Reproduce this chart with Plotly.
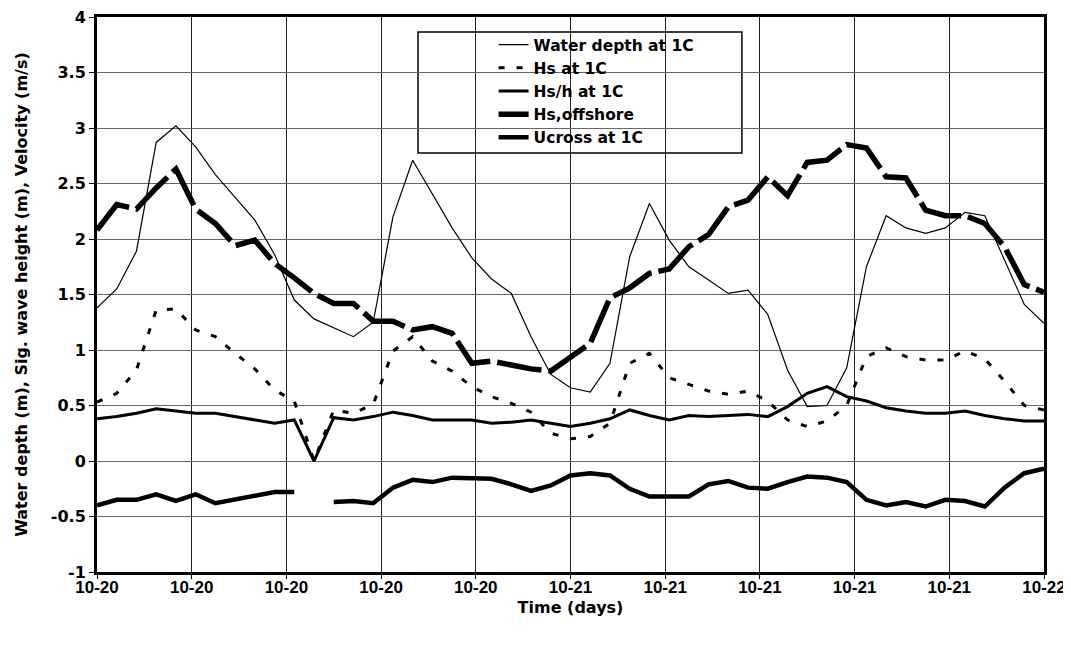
import plotly.graph_objects as go

# time in hours since 10-20 00:00 (hourly samples)
hours = [0, 1, 2, 3, 4, 5, 6, 7, 8, 9, 10, 11, 12, 13, 14, 15, 16, 17, 18, 19, 20,
         21, 22, 23, 24, 25, 26, 27, 28, 29, 30, 31, 32, 33, 34, 35, 36, 37, 38, 39, 40,
         41, 42, 43, 44, 45, 46, 47, 48]

water_depth = [1.38, 1.55, 1.89, 2.87, 3.02, 2.83, 2.58, 2.38, 2.17, 1.86, 1.45, 1.28, 1.20,
               1.12, 1.25, 2.20, 2.71, 2.41, 2.10, 1.83, 1.64, 1.51, 1.12, 0.78, 0.66, 0.62,
               0.88, 1.84, 2.32, 1.99, 1.75, 1.63, 1.51, 1.54, 1.32, 0.82, 0.49, 0.50, 0.84,
               1.75, 2.21, 2.10, 2.05, 2.10, 2.24, 2.21, 1.81, 1.41, 1.24]

hs_1c = [0.53, 0.61, 0.82, 1.36, 1.37, 1.18, 1.12, 0.97, 0.83, 0.64, 0.54, 0.00, 0.46,
         0.43, 0.51, 0.99, 1.12, 0.90, 0.81, 0.67, 0.58, 0.52, 0.44, 0.25, 0.20, 0.22,
         0.34, 0.88, 0.97, 0.75, 0.69, 0.63, 0.60, 0.63, 0.54, 0.37, 0.31, 0.36, 0.50,
         0.94, 1.02, 0.94, 0.91, 0.91, 0.99, 0.92, 0.72, 0.50, 0.46]

hs_over_h = [0.38, 0.40, 0.43, 0.47, 0.45, 0.43, 0.43, 0.40, 0.37, 0.34, 0.37, 0.00, 0.39,
             0.37, 0.40, 0.44, 0.41, 0.37, 0.37, 0.37, 0.34, 0.35, 0.37, 0.34, 0.31, 0.34,
             0.38, 0.46, 0.41, 0.37, 0.41, 0.40, 0.41, 0.42, 0.40, 0.49, 0.61, 0.67, 0.58,
             0.54, 0.48, 0.45, 0.43, 0.43, 0.45, 0.41, 0.38, 0.36, 0.36]

hs_offshore = [2.08, 2.31, 2.27, 2.46, 2.63, 2.27, 2.14, 1.94, 1.99, 1.78, 1.65, 1.51, 1.42,
               1.42, 1.26, 1.26, 1.18, 1.21, 1.15, 0.88, 0.90, 0.86, 0.83, 0.81, 0.93, 1.06,
               1.47, 1.56, 1.69, 1.73, 1.93, 2.04, 2.29, 2.35, 2.56, 2.39, 2.69, 2.71, 2.85,
               2.82, 2.56, 2.55, 2.26, 2.21, 2.21, 2.14, 1.93, 1.59, 1.52]

ucross = [-0.40, -0.35, -0.35, -0.30, -0.36, -0.30, -0.38, -0.35, -0.31, -0.28, -0.28, None,
          -0.37, -0.36, -0.38, -0.24, -0.17, -0.19, -0.15, -0.15, -0.16, -0.21, -0.27, -0.22,
          -0.13, -0.11, -0.13, -0.25, -0.32, -0.32, -0.32, -0.21, -0.18, -0.24, -0.25, -0.19,
          -0.14, -0.15, -0.19, -0.35, -0.40, -0.37, -0.41, -0.35, -0.36, -0.41, -0.24, -0.11,
          -0.07]

x_tick_hours = [0, 4.8, 9.6, 14.4, 19.2, 24, 28.8, 33.6, 38.4, 43.2, 48]
x_tick_labels = ["10-20", "10-20", "10-20", "10-20", "10-20", "10-21", "10-21", "10-21",
                 "10-21", "10-21", "10-22"]
y_tick_vals = [-1, -0.5, 0, 0.5, 1, 1.5, 2, 2.5, 3, 3.5, 4]
y_tick_labels = ["-1", "-0.5", "0", "0.5", "1", "1.5", "2", "2.5", "3", "3.5", "4"]

ARIAL = "Liberation Sans, Arial, sans-serif"
WIDE = "DejaVu Sans, Verdana, sans-serif"

fig = go.Figure()
fig.add_trace(go.Scatter(x=hours, y=water_depth, mode="lines", name="Water depth at 1C",
                         line=dict(color="black", width=1.2)))
fig.add_trace(go.Scatter(x=hours, y=hs_1c, mode="lines", name="Hs at 1C",
                         line=dict(color="black", width=3, dash="6px,12px")))
fig.add_trace(go.Scatter(x=hours, y=hs_over_h, mode="lines", name="Hs/h at 1C",
                         line=dict(color="black", width=3)))
fig.add_trace(go.Scatter(x=hours, y=hs_offshore, mode="lines", name="Hs,offshore",
                         line=dict(color="black", width=5.5, dash="45px,7px")))
fig.add_trace(go.Scatter(x=hours, y=ucross, mode="lines", name="Ucross at 1C",
                         line=dict(color="black", width=4.5), connectgaps=False))

# legend frame
fig.add_shape(type="rect", xref="paper", yref="paper",
              x0=0.339, x1=0.681, y0=0.755, y1=0.973,
              line=dict(color="black", width=1.5), fillcolor="white", layer="below")

# page body has an 8px default margin, so the figure is sized/offset to compensate
fig.update_layout(
    width=1063, height=638,
    margin=dict(l=89, r=27, t=9, b=74),
    paper_bgcolor="white", plot_bgcolor="white",
    font=dict(family=ARIAL, color="black", size=14),
    showlegend=True,
    legend=dict(x=0.4188, y=0.980, xanchor="left", yanchor="top",
                bgcolor="rgba(0,0,0,0)", borderwidth=0,
                font=dict(family=WIDE, size=15.5, color="black", weight="bold"),
                itemwidth=30, tracegroupgap=0),
    xaxis=dict(range=[0, 48], tickvals=x_tick_hours, ticktext=x_tick_labels,
               showgrid=True, gridcolor="#222", gridwidth=1,
               showline=True, linecolor="black", linewidth=3, mirror=True,
               ticks="outside", ticklen=4, tickcolor="black", automargin=False,
               ticklabeloverflow="allow",
               tickfont=dict(family=ARIAL, size=17, weight="bold"),
               title=dict(text="Time (days)", font=dict(family=WIDE, size=16, weight="bold"),
                          standoff=6),
               zeroline=False),
    yaxis=dict(range=[-1, 4], tickvals=y_tick_vals, ticktext=y_tick_labels,
               showgrid=True, gridcolor="#666", gridwidth=1,
               showline=True, linecolor="black", linewidth=3, mirror=True,
               ticks="outside", ticklen=5, tickcolor="black", automargin=False,
               ticklabeloverflow="allow",
               tickfont=dict(family=WIDE, size=16, weight="bold"),
               title=dict(text="Water depth (m), Sig. wave height (m), Velocity (m/s)",
                          font=dict(family=WIDE, size=16, weight="bold"), standoff=20),
               zeroline=False),
)

try:
    fig.update_xaxes(ticklabelstandoff=-6)
except Exception:
    pass

fig.write_html("out.html")
